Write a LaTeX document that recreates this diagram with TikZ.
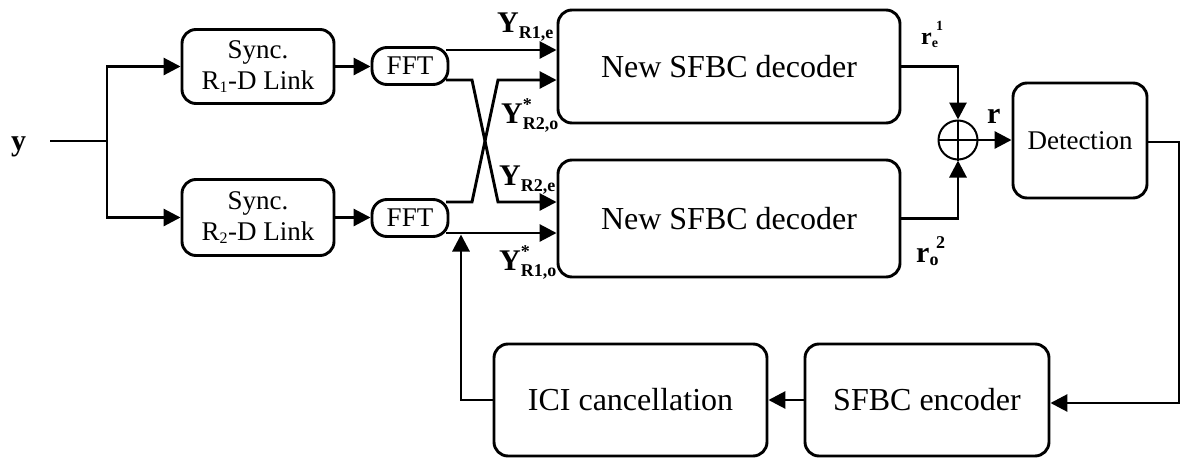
\documentclass[tikz,border=0pt]{standalone}
\usepackage{amsmath}
\usepackage{fontspec}
\setmainfont{Liberation Serif}
\DeclareMathSizes{24}{24}{14}{10}
\DeclareMathSizes{27}{27}{16}{12}
\DeclareMathSizes{30}{30}{18}{12}
\DeclareMathSizes{32}{32}{18}{13}
\usetikzlibrary{arrows.meta,calc}
\newcommand\fsA{\fontsize{27}{31}\selectfont}
\newcommand\fsB{\fontsize{32}{36}\selectfont}
\newcommand\fsL{\fontsize{30}{34}\selectfont}
\newcommand\fsS{\fontsize{24}{28}\selectfont}
\newcommand\bt[1]{\text{\bfseries #1}}
\begin{document}
\begin{tikzpicture}[x=1pt,y=-1pt,
  blk/.style={draw,line width=2.9pt,rounded corners=14pt,inner sep=0pt,align=center},
  arr/.style={-{Triangle[length=17pt,width=17pt]},line width=2.9pt},
  ln/.style={line width=2.9pt},
  lbl/.style={inner sep=0pt,anchor=base west,font=\fsL}]
\useasboundingbox (0,0) rectangle (1187,458);
% blocks
\node[blk,font=\fsA,minimum width=152pt,minimum height=74pt] (s1) at (258,66.5) {Sync.\\R\textsubscript{1}-D Link};
\node[blk,font=\fsA,minimum width=152pt,minimum height=76pt] (s2) at (258,217.5) {Sync.\\R\textsubscript{2}-D Link};
\node[blk,font=\fsA,rounded corners=15pt,minimum width=76pt,minimum height=37pt] (f1) at (410,66) {FFT};
\node[blk,font=\fsA,rounded corners=15pt,minimum width=76pt,minimum height=37pt] (f2) at (410,218) {FFT};
\node[blk,font=\fsB,minimum width=342pt,minimum height=113pt] (d1) at (729,66.5) {New SFBC decoder};
\node[blk,font=\fsB,minimum width=342pt,minimum height=117pt] (d2) at (729,218.5) {New SFBC decoder};
\node[draw,circle,line width=2pt,minimum size=39pt,inner sep=0pt] (sum) at (958,140) {};
\draw[line width=1.8pt] (sum.north) -- (sum.south) (sum.west) -- (sum.east);
\node[blk,font=\fsA,minimum width=134pt,minimum height=115pt] (det) at (1080,140.5) {Detection};
\node[blk,font=\fsB,minimum width=244pt,minimum height=112pt] (enc) at (927,400) {SFBC encoder};
\node[blk,font=\fsB,minimum width=273pt,minimum height=112pt] (ici) at (630.5,400) {ICI cancellation};
% labels
\node[lbl] (ylab) at (11,150) {\bfseries y};
\node[lbl] (l1) at (497,32) {$\bt{Y}^{\phantom{*}}_{\bt{R1,e}}$};
\node[lbl] (l2) at (501,123) {$\bt{Y}^{\bt{*}}_{\bt{R2,o}}$};
\node[lbl] (l3) at (499,185) {$\bt{Y}^{\phantom{*}}_{\bt{R2,e}}$};
\node[lbl] (l4) at (499,270) {$\bt{Y}^{\bt{*}}_{\bt{R1,o}}$};
\node[lbl,font=\fsS] (re) at (921,44) {$\bt{r}_{\bt{e}}{}^{\mkern-3mu\bt{\raisebox{4pt}{1}}}$};
\node[lbl] (ro) at (916,262) {$\bt{r}_{\bt{o}}{}^{\mkern-3mu\bt{\raisebox{4pt}{2}}}$};
\node[lbl] (rr) at (987,123) {\bfseries r};
% input
\coordinate (in) at (50,141);
\coordinate (split) at (107,141);
\draw[ln] (in) -- (split);
\draw[arr] (split) |- (s1.west);
\draw[arr] (split) |- (s2.west);
\draw[arr] (s1.east) -- (s1.east -| f1.west);
\draw[arr] (s2.east) -- (s2.east -| f2.west);
% FFT outputs and crossing
\coordinate (o1) at (446,50);
\coordinate (o2) at (446,80);
\coordinate (o3) at (446,202);
\coordinate (o4) at (446,233);
\coordinate (xa) at (472,80);
\coordinate (xb) at (498,202);
\coordinate (xc) at (472,202);
\coordinate (xd) at (498,80);
\draw[arr] (o1) -- (o1 -| d1.west);
\draw[arr] (o2) -- (xa) -- (xb) -- (xb -| d2.west);
\draw[arr] (o3) -- (xc) -- (xd) -- (xd -| d1.west);
\draw[arr] (o4) -- (o4 -| d2.west);
% combiner
\draw[arr] (d1.east) -| (sum.north);
\draw[arr] (d2.east) -| (sum.south);
\draw[arr] (sum.east) -- (sum.east -| det.west);
% feedback
\coordinate (c1) at (1179,142);
\coordinate (c2) at (1179,403);
\draw[arr] (det.east |- c1) -- (c1) -- (c2) -- (c2 -| enc.east);
\draw[arr] (enc.west) -- (ici.east);
\coordinate (fb) at (461,234.5);
\draw[arr] (ici.west) -| (fb);
\end{tikzpicture}
\end{document}
